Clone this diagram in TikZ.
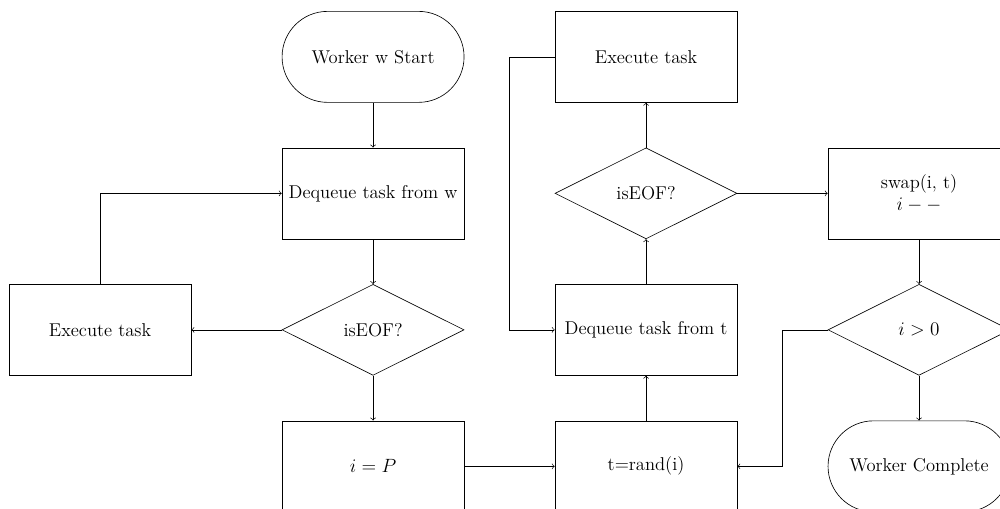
\documentclass[tikz,border=0pt]{standalone}
\usetikzlibrary{shapes.geometric,positioning}
\tikzset{
  txt/.style={font=\fontsize{11.6}{14}\selectfont, inner sep=2pt},
  procbox/.style={txt, draw, rectangle, minimum width=4cm, minimum height=2cm, align=center},
  termbox/.style={txt, draw, rectangle, rounded corners=1cm, minimum width=4cm, minimum height=2cm},
  decide/.style={txt, draw, diamond, aspect=2, minimum width=4cm, minimum height=2cm, inner sep=1pt},
  flow/.style={->}
}
\begin{document}
\begin{tikzpicture}
  \clip (-2.2,1.25) rectangle (19.78,-9.93);

  % first column: worker start and own queue
  \node[termbox]  (start)  at (6,0)  {Worker w Start};
  \node[procbox]  (deqw)   at (6,-3) {Dequeue task from w};
  \node[decide]   (eofw)   at (6,-6) {isEOF?};
  \node[procbox]  (execw)  at (0,-6) {Execute task};
  \node[procbox]  (setp)   at (6,-9) {$i = P$};

  % stealing column
  \node[procbox]  (randt)  at (12,-9) {t=rand(i)};
  \node[procbox]  (deqt)   at (12,-6) {Dequeue task from t};
  \node[decide]   (eoft)   at (12,-3) {isEOF?};
  \node[procbox]  (exect)  at (12,0)  {Execute task};

  % victim bookkeeping
  \node[procbox]  (swap)   at (18,-3) {swap(i, t)\\ $i--$};
  \node[decide]   (more)   at (18,-6) {$i > 0$};
  \node[termbox]  (done)   at (18,-9) {Worker Complete};

  \coordinate (loopw) at (0,-3);
  \coordinate (loopt1) at (9,0);
  \coordinate (loopt2) at (9,-6);
  \coordinate (back1) at (15,-6);
  \coordinate (back2) at (15,-9);

  \draw[flow] (start) -- (deqw);
  \draw[flow] (deqw) -- (eofw);
  \draw[flow] (eofw) -- (execw);
  \draw[flow] (execw.north) -- (loopw) -- (deqw.west);
  \draw[flow] (eofw) -- (setp);
  \draw[flow] (setp) -- (randt);
  \draw[flow] (randt) -- (deqt);
  \draw[flow] (deqt) -- (eoft);
  \draw[flow] (eoft) -- (exect);
  \draw[flow] (exect.west) -- (loopt1) -- (loopt2) -- (deqt.west);
  \draw[flow] (eoft) -- (swap);
  \draw[flow] (swap) -- (more);
  \draw[flow] (more.west) -- (back1) -- (back2) -- (randt.east);
  \draw[flow] (more) -- (done);
\end{tikzpicture}
\end{document}
